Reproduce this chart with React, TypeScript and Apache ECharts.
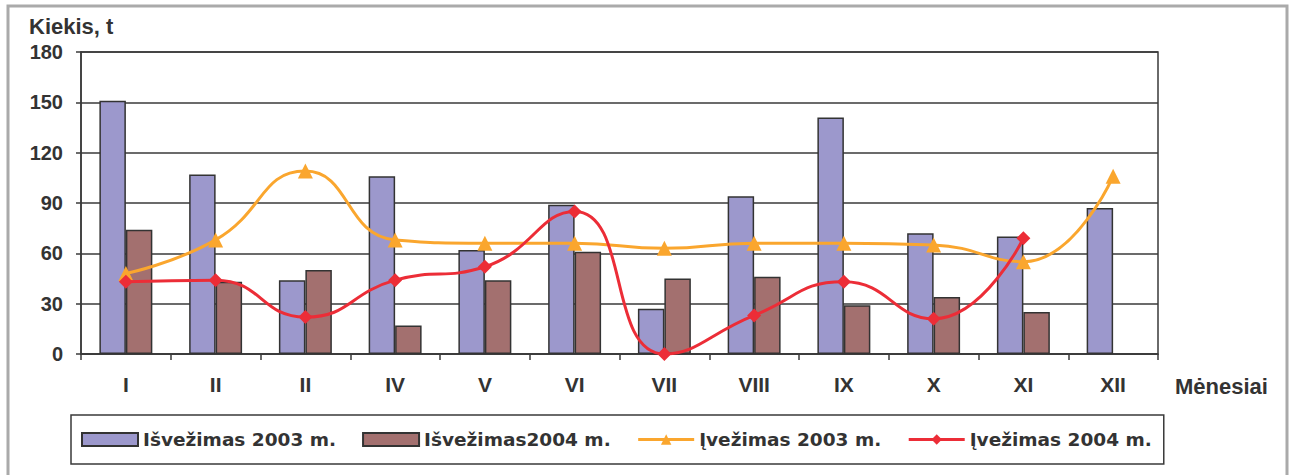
import React, { useEffect, useRef } from "react";
import * as echarts from "echarts";

const months = ["I", "II", "II", "IV", "V", "VI", "VII", "VIII", "IX", "X", "XI", "XII"];
const export2003 = [151, 107, 44, 106, 62, 89, 27, 94, 141, 72, 70, 87];
const export2004 = [74, 43, 50, 17, 44, 61, 45, 46, 29, 34, 25, null];
const import2003 = [48, 68, 109, 68, 66, 66, 63, 66, 66, 65, 55, 106];
const import2004 = [43, 44, 22, 44, 52, 85, 0, 23, 43, 21, 69, null];
const yTicks = { min: 0, max: 180, interval: 30 };
const seriesNames = ["Išvežimas 2003 m.", "Išvežimas2004 m.", "Įvežimas 2003 m.", "Įvežimas 2004 m."];

const AX = "#3a3a3a";
const LABEL = "#333";
const ARIAL = "'Liberation Sans', Arial, sans-serif";
const DEJAVU = "'DejaVu Sans', sans-serif";
const PURPLE = "#9c98cc";
const BROWN = "#a3706f";
const ORANGE = "#faa62e";
const RED = "#ec2d37";

export default function App() {
  const ref = useRef<HTMLDivElement>(null);
  useEffect(() => {
    if (!ref.current) return;
    const chart = echarts.init(ref.current, null, { renderer: "svg" });
    chart.setOption({
      animation: false,
      backgroundColor: "#fff",
      grid: { left: 81, top: 52, width: 1077, height: 302, show: true, borderColor: AX, borderWidth: 1.5 },
      legend: {
        left: 71,
        top: 415,
        padding: [15, 12, 15, 10],
        itemGap: 26,
        itemWidth: 56,
        itemHeight: 13,
        borderColor: AX,
        borderWidth: 1.5,
        data: [
          { name: seriesNames[0], icon: "rect" },
          { name: seriesNames[1], icon: "rect" },
          { name: seriesNames[2], lineStyle: { width: 3 } },
          { name: seriesNames[3], lineStyle: { width: 3 } },
        ],
        textStyle: { fontFamily: DEJAVU, fontWeight: "bold", fontSize: 18.5, color: LABEL },
      },
      xAxis: {
        type: "category",
        data: months,
        axisLine: { lineStyle: { color: AX, width: 1.5 } },
        axisTick: { show: true, length: 6, lineStyle: { color: AX, width: 1.5 } },
        axisLabel: { margin: 20, fontFamily: ARIAL, fontWeight: "bold", fontSize: 21, color: LABEL },
      },
      yAxis: {
        type: "value",
        min: yTicks.min,
        max: yTicks.max,
        interval: yTicks.interval,
        axisLine: { show: true, lineStyle: { color: AX, width: 1.5 } },
        axisTick: { show: true, length: 5, lineStyle: { color: AX, width: 1.5 } },
        splitLine: { lineStyle: { color: AX, width: 1.5 } },
        axisLabel: { margin: 18, fontFamily: ARIAL, fontWeight: "bold", fontSize: 20, color: LABEL },
      },
      series: [
        {
          name: seriesNames[0],
          type: "bar",
          data: export2003,
          barGap: "0%",
          barCategoryGap: "41%",
          itemStyle: { color: PURPLE, borderColor: "#333", borderWidth: 1.5 },
        },
        {
          name: seriesNames[1],
          type: "bar",
          data: export2004,
          barGap: "0%",
          barCategoryGap: "41%",
          itemStyle: { color: BROWN, borderColor: "#333", borderWidth: 1.5 },
        },
        {
          name: seriesNames[2],
          type: "line",
          data: import2003,
          smooth: 0.5,
          symbol: "triangle",
          symbolSize: 15,
          lineStyle: { color: ORANGE, width: 3 },
          itemStyle: { color: ORANGE },
          z: 3,
        },
        {
          name: seriesNames[3],
          type: "line",
          data: import2004,
          smooth: 0.5,
          symbol: "diamond",
          symbolSize: 14,
          lineStyle: { color: RED, width: 3 },
          itemStyle: { color: RED },
          z: 4,
        },
      ],
      graphic: [
        {
          type: "rect",
          shape: { x: 8, y: 6, width: 1279, height: 520 },
          style: { fill: "none", stroke: "#aaa", lineWidth: 3 },
          silent: true,
        },
        {
          type: "text",
          x: 29,
          y: 26,
          style: {
            text: "Kiekis, t",
            fontFamily: ARIAL,
            fontWeight: "bold",
            fontSize: 22,
            fill: LABEL,
            verticalAlign: "middle",
            align: "left",
          },
        },
        {
          type: "text",
          x: 1175,
          y: 386,
          style: {
            text: "Mėnesiai",
            fontFamily: ARIAL,
            fontWeight: "bold",
            fontSize: 22,
            fill: LABEL,
            verticalAlign: "middle",
            align: "left",
          },
        },
      ],
    });
    return () => chart.dispose();
  }, []);
  return (
    <div
      ref={ref}
      style={{ position: "absolute", left: 0, top: 0, width: 1289, height: 475 }}
    />
  );
}
